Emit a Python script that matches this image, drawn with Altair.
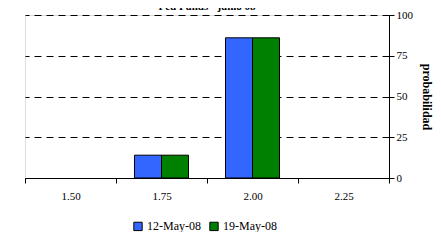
import altair as alt
import pandas as pd

rates = ["1.50", "1.75", "2.00", "2.25"]
series = ["12-May-08", "19-May-08"]
may12 = [0, 14, 86, 0]
may19 = [0, 14, 86, 0]

rows = []
for i, r in enumerate(rates):
    rows.append({"rate": r, "serie": series[0], "prob": may12[i]})
    rows.append({"rate": r, "serie": series[1], "prob": may19[i]})
df = pd.DataFrame(rows)

font = "Liberation Serif"

chart = alt.Chart(df).mark_bar(stroke="black", strokeWidth=1).encode(
    x=alt.X("rate:N", sort=rates, title=None,
            scale=alt.Scale(domain=rates, paddingInner=0, paddingOuter=0),
            axis=alt.Axis(labelAngle=0, tickBand="extent", domainColor="black",
                          tickColor="black", tickSize=5, labelFontSize=11,
                          labelFont=font, labelColor="black", labelPadding=7,
                          grid=False)),
    xOffset=alt.XOffset("serie:N", sort=series,
                        scale=alt.Scale(domain=series, paddingInner=0, paddingOuter=0.685)),
    y=alt.Y("prob:Q", title="probabilidad",
            scale=alt.Scale(domain=[0, 100]),
            axis=alt.Axis(orient="right", values=[0, 25, 50, 75, 100],
                          domainColor="black", tickColor="black", tickSize=5,
                          labelFontSize=11, labelFont=font, labelColor="black",
                          titleFont=font, titleFontSize=12, titleFontWeight="bold",
                          titleColor="black", titlePadding=7,
                          grid=True, gridColor="black", gridDash=[7, 5],
                          gridWidth=1)),
    color=alt.Color("serie:N", sort=series,
                    scale=alt.Scale(domain=series, range=["#3366FF", "#008000"]),
                    legend=alt.Legend(title=None, orient="none", direction="horizontal",
                                      legendX=107, legendY=205,
                                      symbolType="square", symbolSize=70,
                                      symbolStrokeColor="black", symbolStrokeWidth=1,
                                      symbolOpacity=1,
                                      labelFont=font, labelFontSize=12,
                                      labelColor="black", columnPadding=6,
                                      labelOffset=3)),
).transform_filter(
    alt.datum.prob > 0
).properties(
    width=364, height=163,
    title=alt.Title("Fed Funds - junio 08", font=font, fontSize=11,
                    fontWeight="bold", color="black", offset=-3),
    autosize=alt.AutoSizeParams(type="none"),
    padding={"left": 17, "top": 7, "right": 44, "bottom": 54},
).configure_view(stroke=None).configure(background="white")

chart.save("out.html", embed_options={"renderer": "svg", "actions": False})
